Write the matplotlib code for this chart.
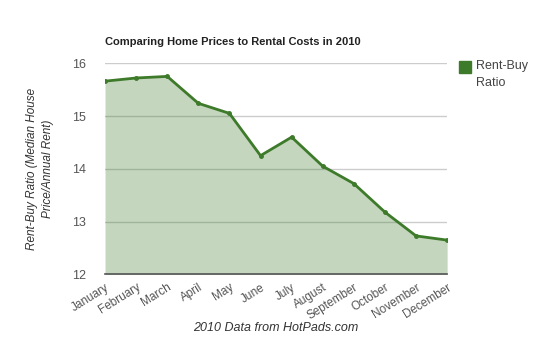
import matplotlib.pyplot as plt

plt.rcParams['font.family'] = ['Liberation Sans', 'DejaVu Sans']

months = ['January', 'February', 'March', 'April', 'May', 'June',
          'July', 'August', 'September', 'October', 'November', 'December']
ratio = [15.66, 15.72, 15.75, 15.24, 15.05, 14.25,
         14.60, 14.05, 13.72, 13.18, 12.73, 12.65]
yticks = [12, 13, 14, 15, 16]

line_color = '#3d7a2a'

fig = plt.figure(figsize=(5.5, 3.38), dpi=100)
ax = fig.add_axes([0.191, 0.188, 0.622, 0.625])

x = range(len(months))
ax.fill_between(x, ratio, 12, color=line_color, alpha=0.3, linewidth=0, zorder=2)
ax.plot(x, ratio, color=line_color, linewidth=2, marker='o', markersize=2.5, zorder=3)

ax.set_xlim(0, len(months) - 1)
ax.set_ylim(12, 16)
ax.set_yticks(yticks)
ax.set_xticks(list(x))
ax.set_xticklabels(months, rotation=32, ha='right', rotation_mode='anchor',
                   fontsize=8.5, color='#555555')
ax.tick_params(axis='y', labelsize=9, colors='#555555', length=0, pad=14)
ax.tick_params(axis='x', length=0, pad=5)

ax.grid(axis='y', color='#cccccc', linewidth=1, zorder=1)
for side in ['top', 'right', 'left']:
    ax.spines[side].set_visible(False)
ax.spines['bottom'].set_color('#555555')
ax.spines['bottom'].set_linewidth(1.2)
ax.spines['bottom'].set_zorder(4)

fig.text(40 / 550, 0.50, 'Rent-Buy Ratio (Median House\nPrice/Annual Rent)',
         fontsize=8.5, style='italic', color='#333333', rotation=90,
         ha='center', va='center', multialignment='center', linespacing=1.4)
fig.text(0.502, 1 - 328 / 338, '2010 Data from HotPads.com', fontsize=9,
         style='italic', color='#333333', ha='center', va='center')

fig.text(0.191, 0.876, 'Comparing Home Prices to Rental Costs in 2010',
         fontsize=8, fontweight='bold', color='#222222', ha='left', va='center')

# legend
fig.patches.append(plt.Rectangle((459 / 550, 1 - 73 / 338), 12 / 550, 12 / 338,
                                 transform=fig.transFigure, color=line_color))
fig.text(476 / 550, 1 - 66 / 338, 'Rent-Buy', fontsize=9, color='#444444', va='center')
fig.text(476 / 550, 1 - 83 / 338, 'Ratio', fontsize=9, color='#444444', va='center')

fig.savefig('out.png', dpi=100)
